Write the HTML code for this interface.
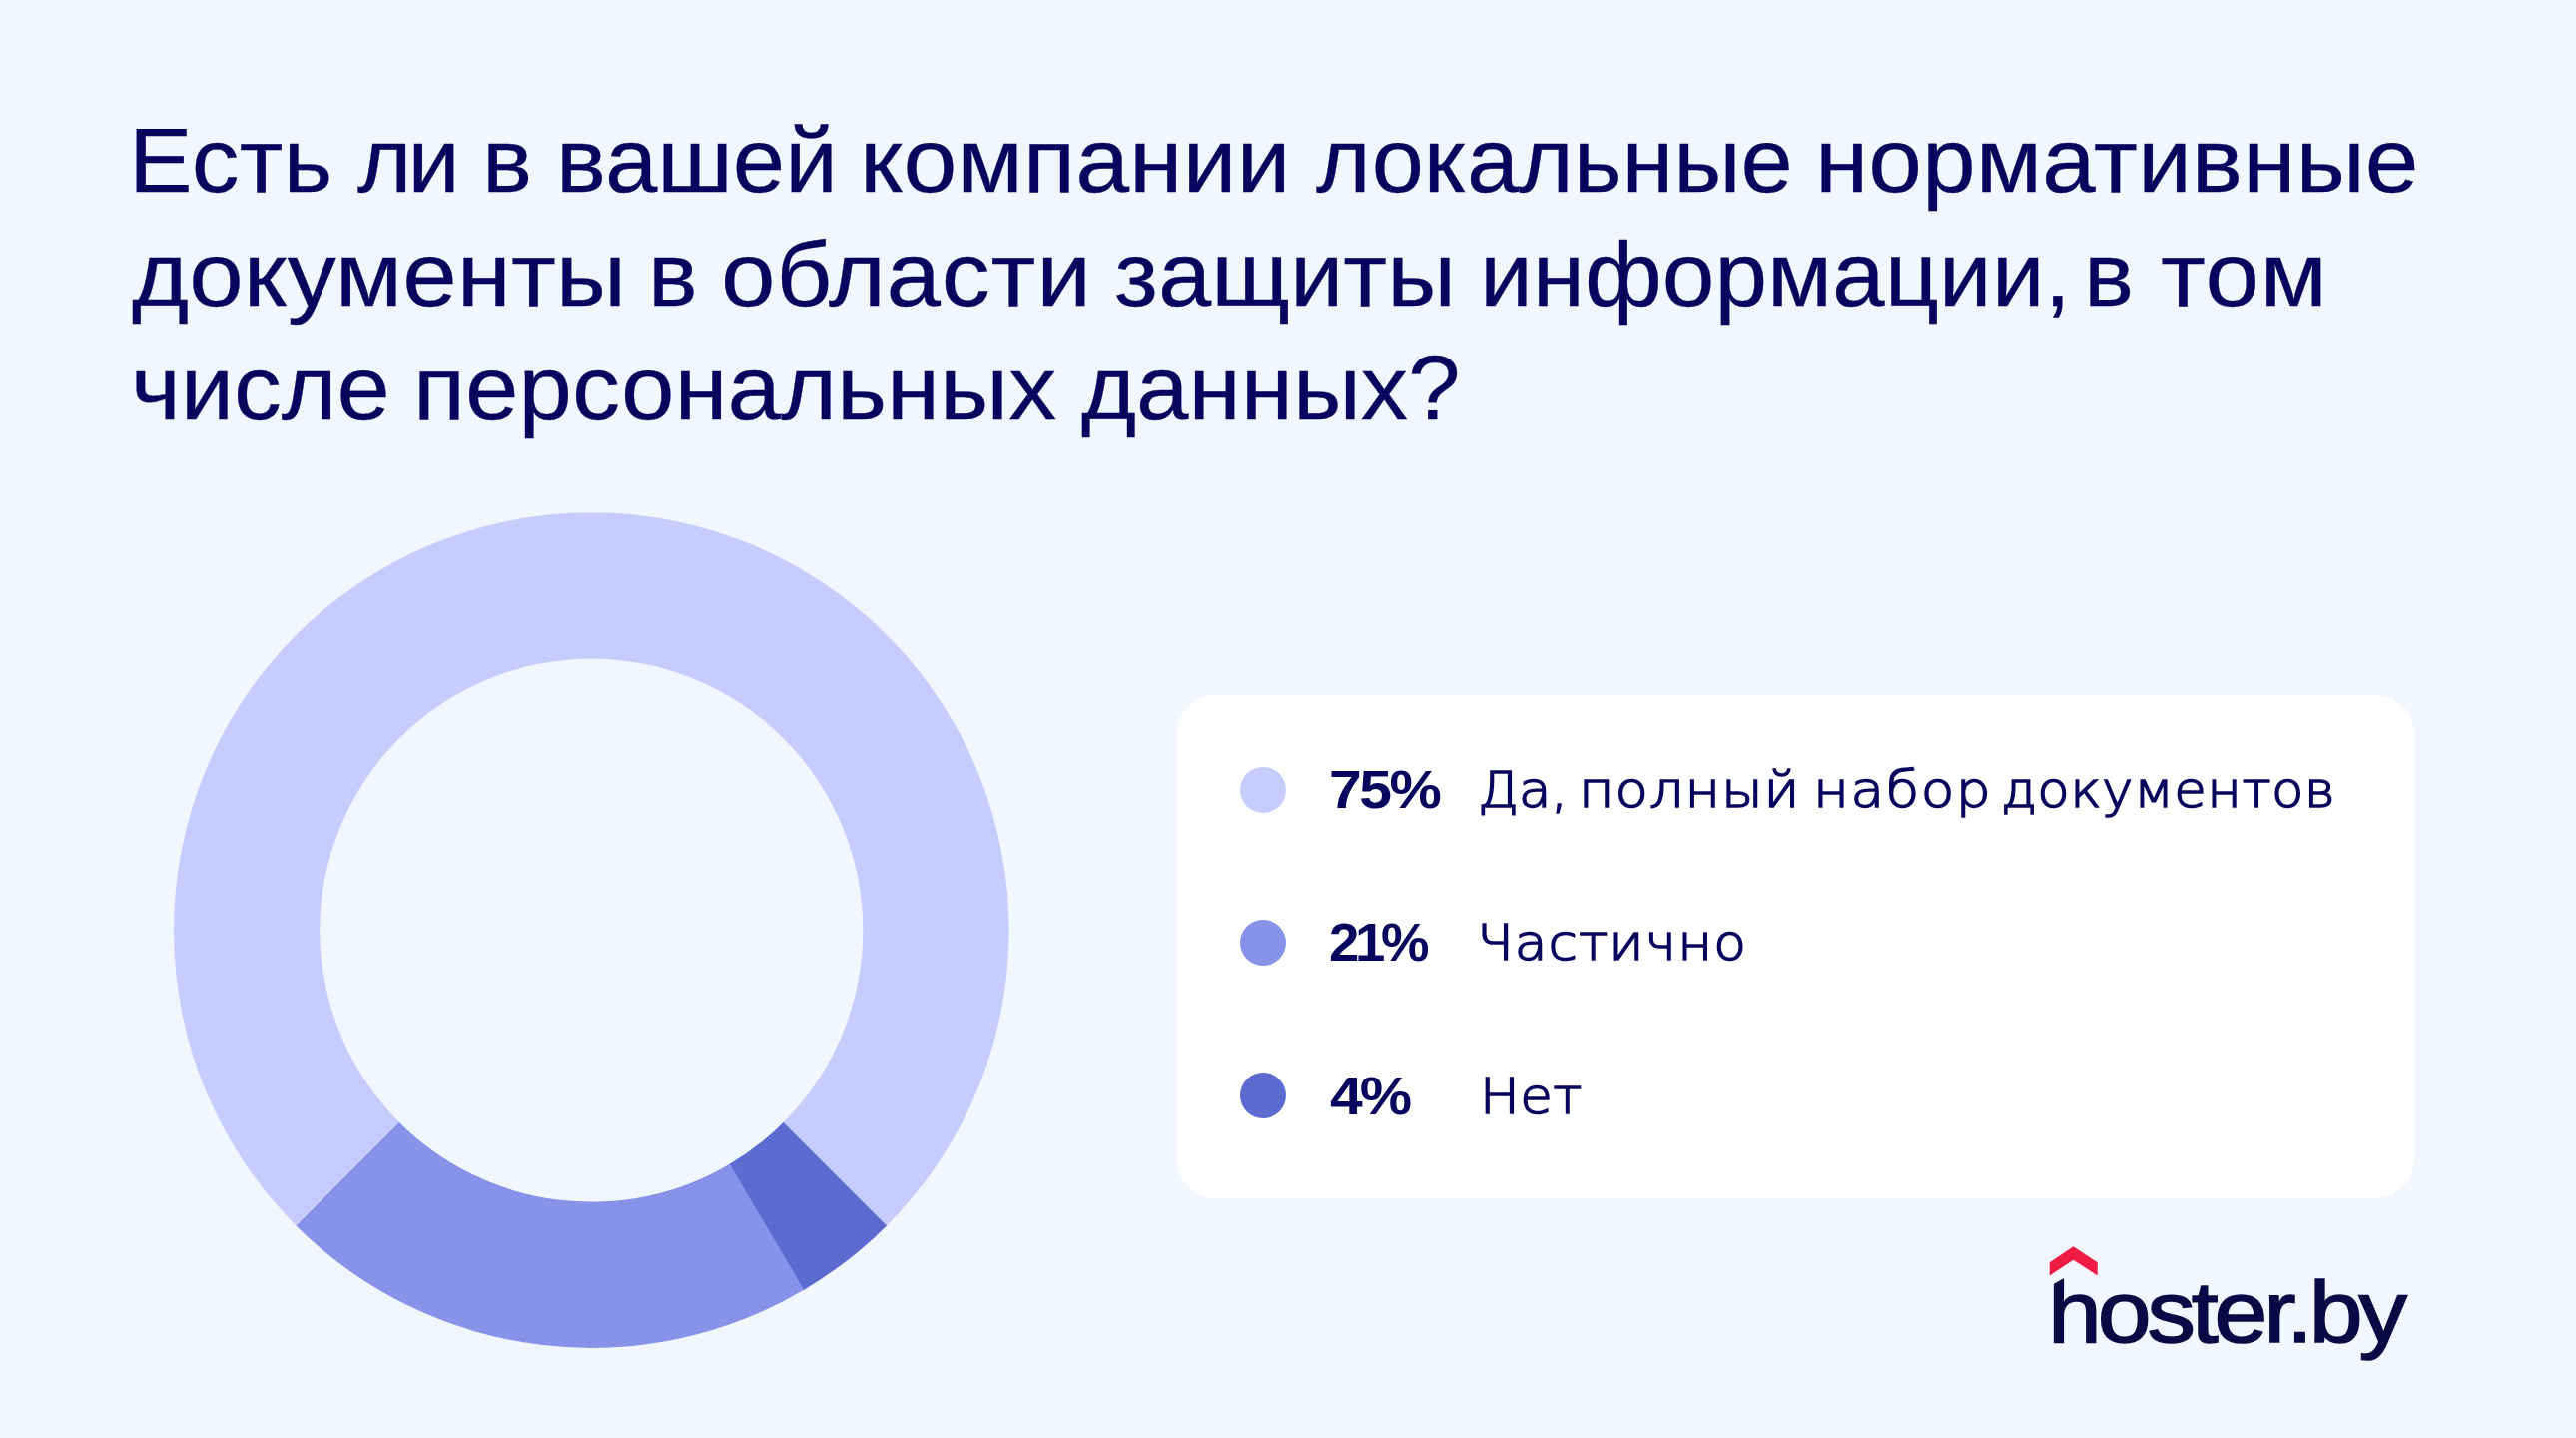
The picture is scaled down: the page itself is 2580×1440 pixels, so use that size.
<!DOCTYPE html>
<html lang="ru">
<head>
<meta charset="utf-8">
<title>Есть ли в вашей компании локальные нормативные документы</title>
<style>
  html, body { margin: 0; padding: 0; }
  body {
    width: 2580px; height: 1440px; overflow: hidden; position: relative;
    background: #f2f6fe;
    font-family: "Liberation Sans", sans-serif;
    color: #06045c;
  }
  .title { position: absolute; left: 0; top: 0; width: 2580px; margin: 0; font-weight: 400; font-size: 91.5px; line-height: 113.4px; color: #06045c; -webkit-text-stroke: 0.3px #06045c; }
  .tl { display: block; position: absolute; left: 0; width: 2580px; height: 113.4px; white-space: nowrap; }
  .tl span { position: absolute; top: 0; white-space: nowrap; transform: scaleX(1.045); transform-origin: 0 50%; }
  .donut { position: absolute; left: 0; top: 0; }
  .card { position: absolute; left: 1179px; top: 696px; width: 1239px; height: 504px; background: #ffffff; border-radius: 38px; }
  .row { position: absolute; left: 0; height: 46px; width: 100%; }
  .dot { position: absolute; left: 63.1px; top: 0; width: 46.2px; height: 46.2px; border-radius: 50%; }
  .pct { position: absolute; left: 152px; top: -7.1px; font-weight: 700; font-size: 53.5px; line-height: 60px; letter-spacing: 0px; white-space: nowrap; transform: scaleX(1.1); transform-origin: 0 50%; }
  .lbl { position: absolute; left: 301px; top: -6.8px; width: 900px; height: 60px; font-family: "DejaVu Sans", "Liberation Sans", sans-serif; font-weight: 200; font-size: 50.5px; line-height: 60px; -webkit-text-stroke: 1.5px #06045c; white-space: nowrap; }
  .lbl .w { position: absolute; top: 0; white-space: nowrap; transform: scaleX(1.05); transform-origin: 0 50%; }
  .logo { position: absolute; left: 0; top: 0; width: 2580px; height: 1440px; }
  .logo .word { position: absolute; left: 2050.4px; top: 1264.4px; font-weight: 400; font-size: 88px; line-height: 100px; letter-spacing: -4px; color: #070a45; -webkit-text-stroke: 1.6px #070a45; white-space: nowrap; transform: scaleX(1.1); transform-origin: 0 50%; }
  .logo svg { position: absolute; left: 0; top: 0; }
</style>
</head>
<body>
<h1 class="title">
  <span class="tl" style="top:103.7px"><span style="left:129.23px;letter-spacing:0.181px;transform:scaleX(1.043)">Есть</span> <span style="left:358.10px;letter-spacing:-3.778px;transform:scaleX(1.02)">ли</span> <span style="left:483.20px;letter-spacing:0.000px;transform:scaleX(1.03)">в</span> <span style="left:557.20px;letter-spacing:0.045px;transform:scaleX(1.028)">вашей</span> <span style="left:861.20px;letter-spacing:-0.053px;transform:scaleX(1.059)">компании</span> <span style="left:1317.70px;letter-spacing:-0.001px;transform:scaleX(1.024)">локальные</span> <span style="left:1818.10px;letter-spacing:0.013px;transform:scaleX(1.055)">нормативные</span></span>
  <span class="tl" style="top:217.6px"><span style="left:131.52px;letter-spacing:0.095px;transform:scaleX(1.07)">документы</span> <span style="left:649.20px;letter-spacing:0.000px;transform:scaleX(1.02)">в</span> <span style="left:722.26px;letter-spacing:0.732px;transform:scaleX(1.07)">области</span> <span style="left:1116.40px;letter-spacing:0.010px;transform:scaleX(1.046)">защиты</span> <span style="left:1482.10px;letter-spacing:-0.027px;transform:scaleX(1.034)">информации,</span> <span style="left:2087.20px;letter-spacing:0.000px;transform:scaleX(1.03)">в</span> <span style="left:2163.60px;letter-spacing:0.630px;transform:scaleX(1.07)">том</span></span>
  <span class="tl" style="top:331.5px"><span style="left:131.40px;letter-spacing:-0.083px;transform:scaleX(1.045)">числе</span> <span style="left:413.50px;letter-spacing:0.000px;transform:scaleX(1.05)">персональных</span> <span style="left:1083.26px;letter-spacing:0.003px;transform:scaleX(1.032)">данных?</span></span>
</h1>

<svg class="donut" width="1200" height="1440" viewBox="0 0 1200 1440">
  <path d="M298.59 1229.44A418.3 418.3 0 1 1 886.01 1229.44L783.29 1125.27A272 272 0 1 0 401.31 1125.27Z" fill="#c6ccfd"/>
  <path d="M807.74 1290.15A418.3 418.3 0 0 1 296.52 1227.38L399.97 1123.93A272 272 0 0 0 732.39 1164.75Z" fill="#8793e8"/>
  <path d="M888.08 1227.38A418.3 418.3 0 0 1 805.23 1291.65L730.76 1165.72A272 272 0 0 0 784.63 1123.93Z" fill="#5c6bd0"/>
</svg>

<div class="card">
  <div class="row" style="top:72px"><i class="dot" style="background:#c6ccfd"></i><b class="pct" style="left:151.84px;letter-spacing:-2.203px">75%</b><span class="lbl"><span class="w" style="left:-0.5px;letter-spacing:-0.146px;transform:scaleX(1.05)">Да,</span> <span class="w" style="left:100.6px;letter-spacing:0.787px;transform:scaleX(1.08)">полный</span> <span class="w" style="left:335.9px;letter-spacing:1.324px;transform:scaleX(1.09)">набор</span> <span class="w" style="left:524.0px;letter-spacing:0.401px;transform:scaleX(1.05)">документов</span></span></div>
  <div class="row" style="top:225.1px"><i class="dot" style="background:#8793e8"></i><b class="pct" style="left:151.65px;letter-spacing:-4.204px;transform:scaleX(1.02)">21%</b><span class="lbl"><span class="w" style="left:-1.15px;letter-spacing:0.94px;transform:scaleX(1.06)">Частично</span></span></div>
  <div class="row" style="top:378.6px"><i class="dot" style="background:#5c6bd0;top:-0.4px"></i><b class="pct" style="left:153.07px;letter-spacing:-2.676px">4%</b><span class="lbl"><span class="w" style="left:2.25px;letter-spacing:0.405px;transform:scaleX(1.05)">Нет</span></span></div>
</div>

<div class="logo">
  <svg width="2580" height="1440" viewBox="0 0 2580 1440"><polygon points="2052.7,1264.2 2076.5,1248.2 2100.7,1264.2 2100.7,1277.4 2076.5,1261.7 2052.7,1277.4" fill="#ee1b42"/></svg>
  <span class="word" style="left:2050.73px;letter-spacing:-3.748px">hoster.by</span>
  <svg class="cut" width="2580" height="1440" viewBox="0 0 2580 1440"><polygon points="2054,1277.6 2070,1277.6 2070,1278.3 2054,1287.6" fill="#f2f6fe"/></svg>
</div>
</body>
</html>
